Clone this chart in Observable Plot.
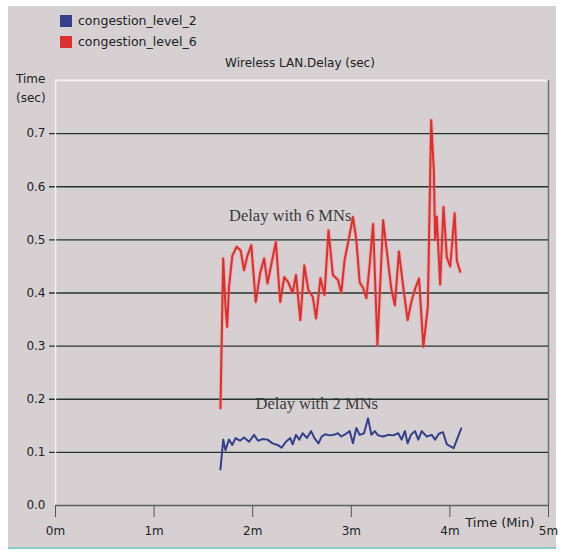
<!DOCTYPE html>
<html>
<head>
<meta charset="utf-8">
<script src="https://cdn.jsdelivr.net/npm/d3@7"></script>
<script src="https://cdn.jsdelivr.net/npm/@observablehq/plot@0.6"></script>
<style>
  html, body { margin: 0; padding: 0; background: #ffffff; }
  #wrap { position: relative; width: 563px; height: 554px; overflow: hidden; background: #ffffff; font-family: "DejaVu Sans", sans-serif; }
  #panel { position: absolute; left: 8px; top: 6px; width: 548px; height: 541px; background: #d6d0d3; border-bottom: 2px solid #8fc9c4; }
  .leg { position: absolute; left: 60px; font-size: 12.5px; color: #222; display: flex; align-items: center; }
  .sw { width: 12px; height: 12px; margin-right: 6px; }
  #title { position: absolute; left: 0; width: 600px; top: 56px; text-align: center; font-size: 12px; color: #222; }
  .ylab { position: absolute; left: 16px; font-size: 12px; color: #222; }
  #chart { position: absolute; left: 0; top: 70px; }
</style>
</head>
<body>
<div id="wrap">
  <div id="panel"></div>
  <div class="leg" style="top:13px"><div class="sw" id="sw2"></div><span id="lg2"></span></div>
  <div class="leg" style="top:34px"><div class="sw" id="sw6"></div><span id="lg6"></span></div>
  <div id="title"></div>
  <div class="ylab" style="top:72px">Time</div>
  <div class="ylab" style="top:91px">(sec)</div>
  <div id="chart"></div>
</div>
<script>
// ---- data ----
const seriesNames = ["congestion_level_2", "congestion_level_6"];
const seriesColors = ["#34408a", "#dc3030"];
const chartTitle = "Wireless LAN.Delay (sec)";
const xAxisLabel = "Time (Min)";
const annotations = ["Delay with 6 MNs", "Delay with 2 MNs"];
const annotX = [2.38, 2.65];
const annotY = [0.545, 0.192];

const xTicks = [0, 1, 2, 3, 4, 5];
const xTickLabels = ["0m", "1m", "2m", "3m", "4m", "5m"];
const yTicks = [0.0, 0.1, 0.2, 0.3, 0.4, 0.5, 0.6, 0.7];
const yTickLabels = ["0.0", "0.1", "0.2", "0.3", "0.4", "0.5", "0.6", "0.7"];

const times6 = [1.673,1.701,1.724,1.741,1.759,1.793,1.837,1.878,1.912,1.946,1.986,2.031,2.075,2.116,2.150,2.190,2.235,2.279,2.320,2.361,2.405,2.439,2.483,2.524,2.565,2.609,2.643,2.687,2.728,2.769,2.813,2.864,2.898,2.932,2.973,3.017,3.051,3.085,3.119,3.153,3.187,3.221,3.265,3.323,3.367,3.408,3.442,3.483,3.527,3.571,3.612,3.653,3.687,3.731,3.776,3.810,3.837,3.850,3.867,3.901,3.935,3.969,4.003,4.048,4.071,4.105];
const delay6 = [0.183,0.465,0.374,0.336,0.410,0.470,0.487,0.480,0.443,0.470,0.490,0.383,0.437,0.465,0.418,0.455,0.496,0.383,0.430,0.420,0.400,0.434,0.349,0.452,0.405,0.393,0.352,0.428,0.396,0.518,0.434,0.425,0.400,0.462,0.500,0.543,0.500,0.420,0.410,0.390,0.455,0.530,0.302,0.537,0.468,0.405,0.377,0.478,0.411,0.349,0.386,0.411,0.427,0.299,0.374,0.725,0.630,0.500,0.544,0.416,0.562,0.467,0.450,0.550,0.460,0.440];

const times2 = [1.673,1.701,1.724,1.759,1.793,1.827,1.871,1.912,1.963,2.014,2.054,2.099,2.150,2.201,2.252,2.293,2.337,2.381,2.405,2.439,2.473,2.507,2.551,2.592,2.626,2.667,2.701,2.735,2.779,2.823,2.864,2.898,2.939,2.983,3.017,3.051,3.085,3.129,3.170,3.204,3.238,3.272,3.323,3.374,3.425,3.476,3.510,3.544,3.571,3.605,3.646,3.680,3.714,3.765,3.816,3.850,3.888,3.930,3.969,4.038,4.115];
const delay2 = [0.068,0.124,0.104,0.124,0.114,0.127,0.122,0.128,0.120,0.133,0.122,0.125,0.124,0.117,0.114,0.109,0.120,0.127,0.115,0.133,0.124,0.136,0.127,0.140,0.127,0.117,0.130,0.134,0.132,0.133,0.136,0.130,0.134,0.140,0.117,0.146,0.133,0.136,0.164,0.133,0.140,0.132,0.130,0.133,0.132,0.136,0.124,0.140,0.117,0.133,0.140,0.124,0.140,0.130,0.133,0.124,0.135,0.138,0.115,0.108,0.145];

// ---- build tables ----
const data2 = times2.map((t, i) => ({t, v: delay2[i]}));
const data6 = times6.map((t, i) => ({t, v: delay6[i]}));
const annot = annotations.map((s, i) => ({s, x: annotX[i], y: annotY[i]}));

document.getElementById("sw2").style.background = seriesColors[0];
document.getElementById("sw6").style.background = seriesColors[1];
document.getElementById("lg2").textContent = seriesNames[0];
document.getElementById("lg6").textContent = seriesNames[1];
document.getElementById("title").textContent = chartTitle;

const chart = Plot.plot({
  width: 563,
  height: 480,
  marginLeft: 55,
  marginRight: 15,
  marginTop: 10,
  marginBottom: 45,
  style: { background: "transparent", fontFamily: "DejaVu Sans, sans-serif", fontSize: "12px", color: "#222" },
  x: { domain: [0, 5], label: null },
  y: { domain: [0, 0.8], label: null },
  marks: [
    Plot.ruleY(yTicks.slice(1), { stroke: "#24332f", strokeWidth: 1.4, insetLeft: -6 }),
    Plot.ruleX([0], { stroke: "#f2eef0", strokeWidth: 1.5 }),
    Plot.ruleY([0.8], { stroke: "#f2eef0", strokeWidth: 2 }),
    Plot.ruleX([5], { stroke: "#707070", strokeWidth: 1.5 }),
    Plot.ruleY([0], { stroke: "#606060", strokeWidth: 1.5 }),
    Plot.axisY({ ticks: yTicks, tickFormat: d => yTickLabels[yTicks.indexOf(d)], tickSize: 0, tickPadding: 10, label: null, fill: "#222" }),
    Plot.axisX({ ticks: xTicks, tickFormat: d => xTickLabels[xTicks.indexOf(d)], tickSize: 12, tickPadding: 9, stroke: "#555", label: null, fill: "#222" }),
    Plot.text([xAxisLabel], { frameAnchor: "bottom-right", dx: -14, dy: 21, fontSize: 13, fill: "#222", textAnchor: "end" }),
    Plot.line(data6, { x: "t", y: "v", stroke: "#ff7070", strokeWidth: 4, strokeOpacity: 0.35 }),
    Plot.line(data6, { x: "t", y: "v", stroke: seriesColors[1], strokeWidth: 2 }),
    Plot.line(data2, { x: "t", y: "v", stroke: seriesColors[0], strokeWidth: 2 }),
    Plot.text(annot, { x: "x", y: "y", text: "s", fontFamily: "Liberation Serif, serif", fontSize: 16.5, fill: "#3a3a3a" })
  ]
});
document.getElementById("chart").appendChild(chart);
</script>
</body>
</html>
